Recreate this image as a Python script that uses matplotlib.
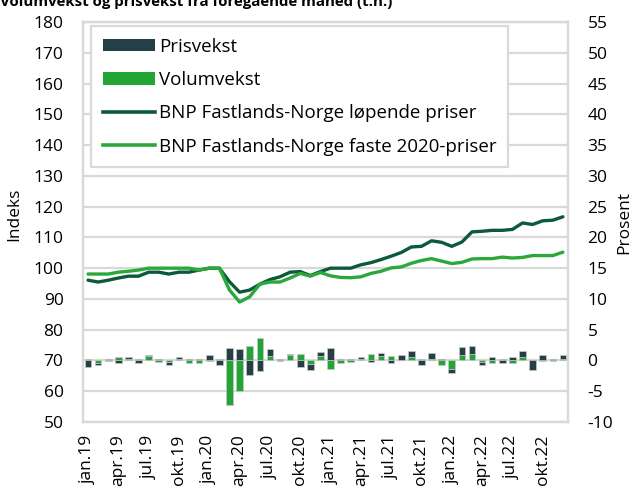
import numpy as np
import matplotlib.pyplot as plt
from matplotlib.patches import Patch
from matplotlib.lines import Line2D

plt.rcParams['font.family'] = ['Open Sans', 'DejaVu Sans']
plt.rcParams['axes.unicode_minus'] = False

tick_labels = ['jan.19', 'apr.19', 'jul.19', 'okt.19',
               'jan.20', 'apr.20', 'jul.20', 'okt.20',
               'jan.21', 'apr.21', 'jul.21', 'okt.21',
               'jan.22', 'apr.22', 'jul.22', 'okt.22']

# BNP Fastlands-Norge, indeks (2020 = 100)
lopende = [96.1, 95.5, 96.1, 96.8, 97.4, 97.4, 98.7, 98.7, 98.1, 98.7, 98.7, 99.4,
           100.0, 100.0, 95.6, 92.2, 92.9, 94.8, 96.3, 97.2, 98.7, 98.9, 97.6, 98.9,
           100.0, 100.0, 100.0, 101.1, 101.8, 102.8, 103.9, 105.1, 106.9, 107.1, 108.9, 108.4,
           107.1, 108.5, 111.8, 112.0, 112.3, 112.3, 112.6, 114.7, 114.2, 115.4, 115.6, 116.7]
faste = [98.1, 98.1, 98.1, 98.7, 99.0, 99.4, 100.0, 100.0, 100.0, 100.0, 100.0, 99.4,
         100.0, 100.0, 92.9, 89.0, 90.7, 94.8, 95.5, 95.5, 96.8, 98.3, 97.4, 98.6,
         97.5, 97.0, 96.9, 97.2, 98.3, 99.0, 100.1, 100.4, 101.6, 102.5, 103.1, 102.3,
         101.5, 101.9, 103.0, 103.1, 103.1, 103.6, 103.3, 103.5, 104.1, 104.1, 104.1, 105.2]

# vekst fra foregående måned, prosent (t.h.)
prisvekst = [-1.0, -0.35, 0.3, -0.4, 0.3, -0.4, 0.2, 0.25, -0.45, 0.3, 0.2, 0.2,
             0.9, -0.75, 2.1, 1.8, -2.4, -1.7, 1.0, 0.2, 0.2, -1.0, -1.0, 0.7,
             2.1, 0.2, 0.2, 0.3, -0.3, 0.35, -0.35, 0.9, 1.0, -0.7, 0.9, 0.2,
             -0.65, 1.3, 1.25, -0.45, 0.55, -0.35, 0.55, 0.9, -1.6, 0.9, 0.2, 0.55]
volumvekst = [0.2, -0.35, -0.1, 0.55, 0.3, 0.2, 0.75, -0.3, -0.3, 0.25, -0.4, -0.35,
              -0.1, 0.2, -7.2, -4.9, 2.4, 3.7, 0.8, -0.1, 0.9, 1.1, -0.6, 0.75,
              -1.4, -0.35, -0.3, 0.3, 1.1, 0.8, 0.8, 0.0, 0.6, 0.2, 0.3, -0.7,
              -1.35, 0.85, 1.1, -0.25, -0.4, 0.2, -0.35, 0.6, 0.15, -0.1, -0.1, 0.3]

c_pris = '#243f45'
c_vol = '#22a535'
c_lop = '#0b5a3a'
c_fast = '#2aa83a'
c_grid = '#d9d9d9'

x = np.arange(len(lopende))
pris = np.array(prisvekst)
vol = np.array(volumvekst)

fig = plt.figure(figsize=(6.32, 4.94), dpi=100)
ax = fig.add_axes([0.1313, 0.1457, 0.7674, 0.8097])
ax2 = ax.twinx()
ax.set_zorder(2)
ax.patch.set_visible(False)

# stablede søyler, positive og negative hver for seg
vol_pos = np.where(vol > 0, vol, 0)
vol_neg = np.where(vol < 0, vol, 0)
pris_bottom = np.where(pris > 0, vol_pos, vol_neg)
w = 0.65
ax2.bar(x, vol, width=w, color=c_vol, edgecolor='#c8c8c8', linewidth=0.5, zorder=3)
ax2.bar(x, pris, width=w, bottom=pris_bottom, color=c_pris, edgecolor='#c8c8c8',
        linewidth=0.5, zorder=3)

ax.plot(x, lopende, color=c_lop, lw=2.4, solid_capstyle='round')
ax.plot(x, faste, color=c_fast, lw=2.4, solid_capstyle='round')

ax.set_xlim(-0.5, len(x) - 0.5)
ax.set_ylim(50, 180)
ax.set_yticks(np.arange(50, 181, 10))
ax2.set_ylim(-10, 55)
ax2.set_yticks(np.arange(-10, 56, 5))

ax.set_xticks(x[::3])
ax.set_xticklabels(tick_labels, rotation=90)

# rutenett på det bakerste aksesystemet
ax2.set_xticks(np.arange(-0.5, len(x), 1), minor=True)
ax2.grid(True, which='minor', axis='x', color=c_grid, lw=1.6, zorder=0)
ax2.grid(True, which='major', axis='y', color=c_grid, lw=1.6, zorder=0)
ax2.set_axisbelow(True)

for a in (ax, ax2):
    a.tick_params(which='both', length=0, labelsize=12.5)
    for s in a.spines.values():
        s.set_color(c_grid)
        s.set_linewidth(1.6)
ax.tick_params(axis='y', pad=14)
ax.tick_params(axis='x', pad=9)
ax2.tick_params(axis='y', pad=14)

ax.set_ylabel('Indeks', fontsize=12.5)
ax.yaxis.set_label_coords(-0.126, 0.52)
ax2.set_ylabel('Prosent', fontsize=12.5)
ax2.yaxis.set_label_coords(1.10, 0.50)

handles = [Patch(facecolor=c_pris, edgecolor='none'),
           Patch(facecolor=c_vol, edgecolor='none'),
           Line2D([], [], color=c_lop, lw=2.6),
           Line2D([], [], color=c_fast, lw=2.6)]
labels = ['Prisvekst', 'Volumvekst', 'BNP Fastlands-Norge løpende priser',
          'BNP Fastlands-Norge faste 2020-priser']
leg = ax.legend(handles, labels, loc='upper left', bbox_to_anchor=(0.0165, 0.99),
                borderaxespad=0, fontsize=13.5, handlelength=2.77, handleheight=0.65,
                handletextpad=0.25, labelspacing=0.82, borderpad=0.62,
                fancybox=False, framealpha=1, edgecolor=c_grid)
leg.get_frame().set_linewidth(1.6)

fig.text(0.0, 0.988, 'Volumvekst og prisvekst fra foregående måned (t.h.)',
         fontsize=10.8, fontweight='bold', va='baseline', ha='left')

fig.savefig('out.png', dpi=100)
